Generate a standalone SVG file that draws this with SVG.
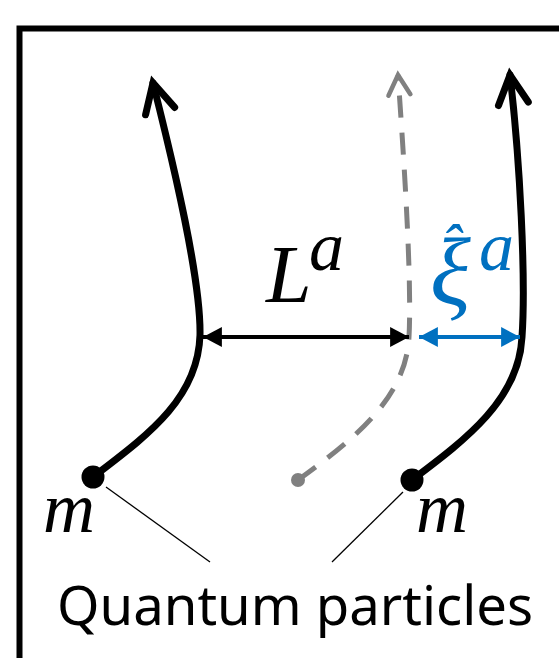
<svg xmlns="http://www.w3.org/2000/svg" width="559" height="658" viewBox="0 0 559 658">
<style>
.traj{fill:none;stroke:#000;stroke-width:7;stroke-linecap:round}
.ghost{fill:none;stroke:#808080;stroke-width:5;stroke-dasharray:22 15}
.math{font-family:"Liberation Serif","DejaVu Serif",serif;font-style:italic}
.lead{stroke:#000;stroke-width:1.3}
</style>
<defs>
<marker id="chev" markerUnits="userSpaceOnUse" orient="auto" markerWidth="60" markerHeight="60" refX="0" refY="0" viewBox="-40 -30 60 60" overflow="visible">
<path d="M-29,-15 L0,0 L-29,15" fill="none" stroke="#000" stroke-width="7" stroke-linecap="round" stroke-linejoin="miter"/>
</marker>
<marker id="chevg" markerUnits="userSpaceOnUse" orient="auto" markerWidth="60" markerHeight="60" refX="0" refY="0" viewBox="-40 -30 60 60" overflow="visible">
<path d="M-20,-11 L0,0 L-20,11" fill="none" stroke="#808080" stroke-width="4.5" stroke-linecap="round"/>
</marker>
<marker id="triK" markerUnits="userSpaceOnUse" orient="auto-start-reverse" markerWidth="20" markerHeight="20" refX="0" refY="0" viewBox="-17 -9 18 18" overflow="visible">
<path d="M0,0 L-17,-9 L-17,9 Z" fill="#000"/>
</marker>
<marker id="triB" markerUnits="userSpaceOnUse" orient="auto-start-reverse" markerWidth="20" markerHeight="20" refX="0" refY="0" viewBox="-17 -9 18 18" overflow="visible">
<path d="M0,0 L-17,-9 L-17,9 Z" fill="#0070C0"/>
</marker>
</defs>
<rect x="0" y="0" width="559" height="658" fill="#fff"/>
<rect id="frame" x="19.5" y="28.5" width="620" height="700" fill="none" stroke="#000" stroke-width="6"/>
<g id="connectors">
<path class="traj" d="M93,477 C145,437 198,400 200,335 C201,280 175,170 153,83" marker-end="url(#chev)"/>
<path class="ghost" d="M298,480 C350,442 406,400 409,337 C412,280 404,160 398,75" marker-end="url(#chevg)"/>
<path class="traj" d="M412,480 C465,440 519,400 522,337 C526,280 520,160 510,75" marker-end="url(#chev)"/>
<line x1="203" y1="337" x2="409" y2="337" stroke="#000" stroke-width="4" marker-start="url(#triK)" marker-end="url(#triK)"/>
<line x1="419" y1="337" x2="520" y2="337" stroke="#0070C0" stroke-width="4" marker-start="url(#triB)" marker-end="url(#triB)"/>
<line class="lead" x1="106" y1="487" x2="210" y2="562"/>
<line class="lead" x1="403" y1="492" x2="332" y2="562"/>
</g>
<g id="particle-left">
<circle cx="93" cy="477" r="11.5" fill="#000"/>
<text class="math" x="43" y="532" font-size="72">m</text>
</g>
<g id="particle-ghost">
<circle cx="298" cy="480" r="7" fill="#808080"/>
</g>
<g id="particle-right">
<circle cx="412" cy="480" r="11.5" fill="#000"/>
<text class="math" x="416" y="532" font-size="72">m</text>
</g>
<g id="label-L">
<text class="math" x="266" y="302" font-size="82">L</text>
<text class="math" x="309" y="270" font-size="70">a</text>
</g>
<g id="label-xi">
<text class="math" fill="#0070C0"><tspan x="430" y="304" font-size="95">ξ</tspan><tspan x="441" y="265" font-size="60">ˆ</tspan><tspan x="479" y="270" font-size="70">a</tspan></text>
</g>
<g id="caption">
<text x="57" y="625" font-family="Noto Sans, DejaVu Sans, sans-serif" font-size="54" textLength="476" lengthAdjust="spacingAndGlyphs">Quantum particles</text>
</g>
</svg>
